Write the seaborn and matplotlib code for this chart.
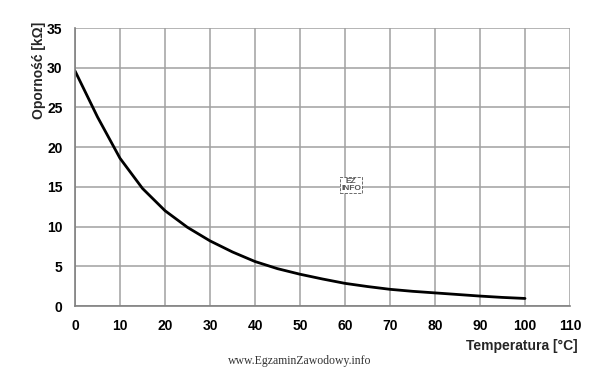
"""NTC thermistor resistance vs temperature."""

import matplotlib
matplotlib.use("Agg")
import matplotlib.pyplot as plt
import seaborn as sns

temperature = [0, 5, 10, 15, 20, 25, 30, 35, 40, 45, 50, 55, 60, 65, 70, 75, 80, 85, 90, 95, 100]
resistance = [29.6, 23.8, 18.6, 14.8, 12.0, 9.9, 8.2, 6.8, 5.6, 4.7, 4.0, 3.4, 2.85,
              2.45, 2.1, 1.85, 1.65, 1.45, 1.25, 1.08, 0.95]
x_ticks = list(range(0, 111, 10))
y_ticks = list(range(0, 36, 5))

sns.set_theme(style="whitegrid")
plt.rcParams["font.family"] = ["Liberation Sans", "DejaVu Sans"]

fig = plt.figure(figsize=(6.02, 3.68), dpi=100)
ax = fig.add_axes([75 / 602, 1 - 306 / 368, 495 / 602, 278 / 368])

sns.lineplot(x=temperature, y=resistance, ax=ax, color="black", linewidth=2.0)

ax.set_xlim(0, 110)
ax.set_ylim(0, 35)
ax.set_xticks(x_ticks)
ax.set_yticks(y_ticks)
ax.grid(True, color="#a0a0a0", linewidth=1.1)
for side in ["top", "right"]:
    ax.spines[side].set_visible(False)
for side in ["left", "bottom"]:
    ax.spines[side].set_visible(True)
    ax.spines[side].set_color("#808080")
    ax.spines[side].set_linewidth(1.2)
ax.tick_params(axis="both", direction="out", length=4, width=1, color="#808080",
               labelsize=10, labelcolor="black")
ax.tick_params(axis="x", pad=5)
ax.tick_params(axis="y", pad=5)
for lbl in ax.get_xticklabels() + ax.get_yticklabels():
    lbl.set_fontweight("bold")

fig.text(39 / 602, 1 - 22 / 368, "Oporność [kΩ]", rotation=90, ha="center", va="top",
         fontsize=10, fontweight="bold")
fig.text(578 / 602, 1 - 346 / 368, "Temperatura [°C]", ha="right", va="center",
         fontsize=10, fontweight="bold")
fig.text(300 / 602, 1 - 361 / 368, "www.EgzaminZawodowy.info", ha="center", va="center",
         fontsize=8.5, family=["Liberation Serif", "DejaVu Serif"], color="#333333")
fig.text(351 / 602, 1 - 185 / 368, "EZ\nINFO", ha="center", va="center", fontsize=6,
         color="#555555", linespacing=0.9, fontweight="bold",
         bbox=dict(boxstyle="square,pad=0.15", fc="white", ec="#555555", ls="--", lw=0.6))

fig.savefig("out.png", dpi=100, facecolor="white")
